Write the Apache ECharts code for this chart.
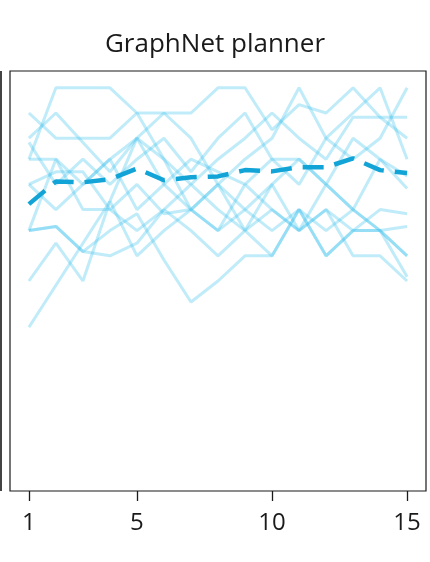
<!DOCTYPE html>
<html lang="en" style="height: 100%">
<head>
  <meta charset="utf-8">
</head>
<body style="height: 100%; margin: 0; background: #fff">
  <div id="container" style="height: 100%"></div>

  <script type="text/javascript" src="https://fastly.jsdelivr.net/npm/echarts@6.0.0/dist/echarts.min.js"></script>

  <script type="text/javascript">
    // episode index on the x axis
    var steps = [1, 2, 3, 4, 5, 6, 7, 8, 9, 10, 11, 12, 13, 14, 15];
    var tickValues = [1, 5, 10, 15];

    // individual runs (arbitrary y units 0-100)
    var runA = [79, 96, 96, 96, 90, 90, 90, 96, 96, 86, 92, 90, 96, 89, 84];
    var runB = [90, 84, 84, 84, 90, 79, 73, 79, 84, 90, 84, 79, 89, 89, 89];
    var runC = [84, 90, 83, 76, 84, 90, 84, 73, 79, 84, 96, 84, 79, 84, 96];
    var runD = [83, 73, 79, 73, 79, 84, 76, 84, 90, 79, 73, 84, 90, 96, 79];
    var runE = [79, 79, 73, 79, 67, 73, 79, 76, 73, 79, 79, 73, 84, 79, 75];
    var runF = [73, 76, 76, 67, 73, 66, 67, 73, 67, 62, 67, 62, 67, 79, 72];
    var runG = [73, 67, 73, 79, 84, 79, 67, 62, 73, 67, 62, 67, 62, 67, 66];
    var runH = [62, 79, 67, 67, 62, 67, 73, 67, 62, 73, 79, 73, 67, 62, 63];
    var runI = [62, 63, 57, 56, 59, 67, 62, 56, 62, 56, 67, 56, 62, 62, 56];
    var runJ = [62, 63, 57, 62, 66, 55, 45, 50, 56, 56, 67, 56, 62, 62, 56];
    var runK = [50, 59, 50, 69, 56, 62, 67, 62, 67, 73, 62, 73, 67, 62, 51];
    var runL = [39, 49, 59, 69, 84, 73, 67, 73, 62, 67, 62, 67, 56, 56, 50];
    var runs = [runA, runB, runC, runD, runE, runF, runG, runH, runI, runJ, runK, runL];

    // mean curve (dashed)
    var meanRun = [68.3, 73.7, 73.5, 74.2, 76.8, 74.0, 74.7, 74.9, 76.4, 76.1, 77.1, 77.1, 79.2, 76.4, 75.7];

    function pairs(values) {
      return values.map(function (v, i) { return [steps[i], v]; });
    }

    var dom = document.getElementById('container');
    var myChart = echarts.init(dom, null, { renderer: 'canvas' });

    var series = runs.map(function (r) {
      return {
        type: 'line',
        data: pairs(r),
        showSymbol: false,
        silent: true,
        z: 2,
        lineStyle: { color: '#45c4ec', opacity: 0.34, width: 3 }
      };
    });
    series.push({
      type: 'line',
      data: pairs(meanRun),
      showSymbol: false,
      silent: true,
      z: 5,
      lineStyle: { color: '#12a4d6', width: 4.5, type: [21, 11] }
    });

    var option = {
      animation: false,
      textStyle: { fontFamily: 'Open Sans' },
      title: {
        text: 'GraphNet planner',
        left: 'center',
        top: 27,
        textStyle: { fontFamily: 'Open Sans', fontSize: 26, fontWeight: 'normal', color: '#1a1a1a' }
      },
      grid: {
        left: 10, right: 4, top: 71, bottom: 71,
        show: true, borderColor: '#1a1a1a', borderWidth: 1.2, backgroundColor: '#fff'
      },
      xAxis: {
        type: 'value',
        min: 0.3,
        max: 15.7,
        axisLine: { show: false },
        splitLine: { show: false },
        axisTick: {
          show: true,
          customValues: tickValues,
          length: 10,
          lineStyle: { color: '#1a1a1a', width: 1.3 }
        },
        axisLabel: {
          customValues: tickValues,
          margin: 20,
          fontSize: 24,
          color: '#1a1a1a',
          fontFamily: 'Open Sans'
        }
      },
      yAxis: {
        type: 'value',
        min: 0,
        max: 100,
        axisLine: { show: false },
        axisTick: { show: false },
        axisLabel: { show: false },
        splitLine: { show: false }
      },
      graphic: [{
        type: 'rect',
        left: 0,
        top: 71,
        shape: { width: 2, height: 420 },
        style: { fill: '#444' },
        silent: true
      }],
      series: series
    };

    myChart.setOption(option);
    window.addEventListener('resize', myChart.resize);
  </script>
</body>
</html>
